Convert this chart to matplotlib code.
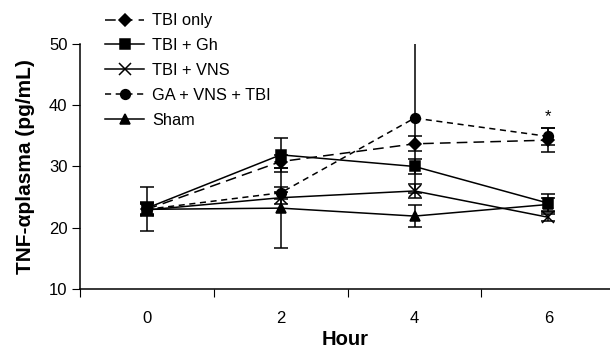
import numpy as np
import matplotlib
matplotlib.use("Agg")
import matplotlib.pyplot as plt
from matplotlib.lines import Line2D

plt.rcParams['font.family'] = ['Liberation Sans', 'DejaVu Sans']

hours = ['0', '2', '4', '6']

tbi_only = [23.0, 30.8, 33.7, 34.3]
tbi_only_err = [1.0, 1.0, 1.2, 1.9]

tbi_gh = [23.2, 31.9, 30.0, 24.0]
tbi_gh_err = [1.0, 2.8, 1.3, 1.5]

tbi_vns = [22.9, 24.9, 26.0, 21.7]
tbi_vns_err = [1.0, 1.0, 1.2, 0.6]

ga_vns_tbi = [23.0, 25.7, 37.9, 34.9]
ga_vns_tbi_err = [1.0, 1.0, 12.2, 1.4]

sham = [23.0, 23.2, 21.9, 23.8]
sham_err = [3.6, 6.5, 1.8, 1.0]

fig = plt.figure(figsize=(6.1, 3.49), dpi=100)
ax = fig.add_axes([0.131, 0.172, 0.869, 0.702])

x = np.arange(len(hours)) + 0.5

series = [
    ('TBI only', tbi_only, tbi_only_err, 'D', (0, (7, 4)), 6),
    ('TBI + Gh', tbi_gh, tbi_gh_err, 's', '-', 7),
    ('TBI + VNS', tbi_vns, tbi_vns_err, 'x', '-', 8),
    ('GA + VNS + TBI', ga_vns_tbi, ga_vns_tbi_err, 'o', (0, (4, 3)), 7),
    ('Sham', sham, sham_err, '^', '-', 7),
]

handles = []
for label, vals, errs, mk, ls, ms in series:
    ax.errorbar(x, vals, yerr=errs, color='black', marker=mk, markersize=ms,
                linestyle=ls, linewidth=1.1, elinewidth=1.1, capsize=5,
                capthick=1.1, markeredgewidth=1.1)
    handles.append(Line2D([], [], color='black', marker=mk, markersize=ms,
                          linestyle=ls, linewidth=1.1, markeredgewidth=1.1,
                          label=label))

ax.text(x[3], 38.2, '*', ha='center', va='center', fontsize=12)

ax.set_xlim(0, 3.96)
ax.set_ylim(10, 50)
ax.set_yticks([10, 20, 30, 40, 50])
ax.set_xticks([0, 1, 2, 3])
ax.set_xticklabels([])
ax.set_xticks(x, minor=True)
ax.set_xticklabels(hours, minor=True)
ax.tick_params(axis='x', which='minor', length=0, pad=16, labelsize=12)
ax.tick_params(axis='x', which='major', length=6, direction='out')
ax.tick_params(axis='y', length=6, direction='out', labelsize=12, pad=3)

for s in ['top', 'right']:
    ax.spines[s].set_visible(False)
for s in ['left', 'bottom']:
    ax.spines[s].set_linewidth(1.1)

ax.set_ylabel('TNF-\u03b1plasma (pg/mL)', fontsize=15, fontweight='bold',
              labelpad=10)
ax.set_xlabel('Hour', fontsize=14.5, fontweight='bold', labelpad=3)

fig.legend(handles=handles, loc='upper left', bbox_to_anchor=(0.172, 0.962),
           frameon=False, fontsize=11.8, handlelength=2.4, labelspacing=0.6,
           handletextpad=0.5, borderpad=0, borderaxespad=0)

fig.savefig('out.png', dpi=100)
